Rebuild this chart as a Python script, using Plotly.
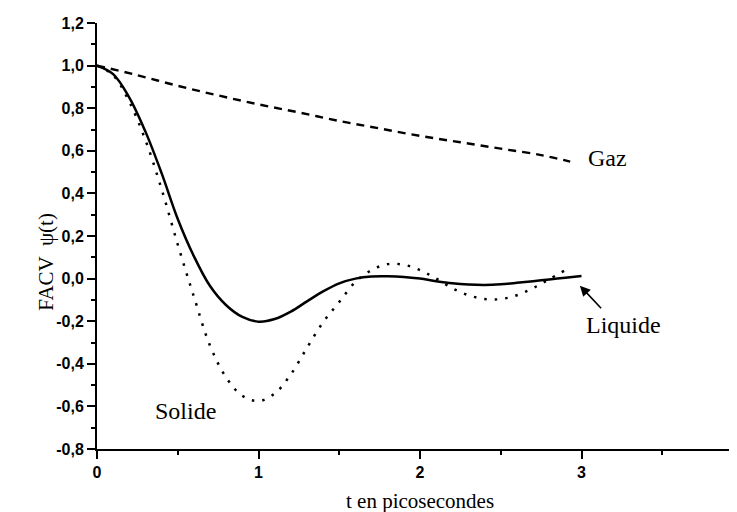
import plotly.graph_objects as go

# ---- data ----
t_liquide = [0, 0.1, 0.2, 0.3, 0.4, 0.5, 0.6, 0.7, 0.8, 0.9,
             1.0, 1.1, 1.2, 1.3, 1.4, 1.5, 1.6, 1.7, 1.8, 1.9, 2.0, 2.1, 2.2, 2.3, 2.4,
             2.5, 2.6, 2.7, 2.8, 2.9, 3.0]
psi_liquide = [1.0, 0.96, 0.85, 0.69, 0.495, 0.28, 0.105, -0.035, -0.125, -0.18,
               -0.202, -0.19, -0.155, -0.107, -0.06, -0.022, 0.0, 0.01, 0.011,
               0.008, 0.0, -0.012, -0.022, -0.028, -0.03, -0.027, -0.02, -0.012, -0.004,
               0.004, 0.012]

t_solide = [0, 0.1, 0.2, 0.3, 0.4, 0.5, 0.6, 0.7, 0.8, 0.9,
            1.0, 1.1, 1.2, 1.3, 1.4, 1.5, 1.6, 1.7, 1.8, 1.9, 2.0, 2.1, 2.2, 2.3, 2.4,
            2.5, 2.6, 2.7, 2.8, 2.9]
psi_solide = [1.0, 0.955, 0.83, 0.65, 0.42, 0.16, -0.085, -0.315, -0.465, -0.55,
              -0.575, -0.54, -0.45, -0.325, -0.205, -0.11, -0.015, 0.04, 0.068, 0.065,
              0.04, 0.0, -0.045, -0.078, -0.096, -0.096, -0.078, -0.045, -0.003, 0.04]

t_gaz = [0, 0.25, 0.5, 0.75, 1.0, 1.25, 1.5, 1.75, 2.0, 2.25, 2.5, 2.75, 2.93]
psi_gaz = [1.0, 0.955, 0.905, 0.86, 0.818, 0.78, 0.74, 0.705, 0.67, 0.64, 0.61, 0.58, 0.549]

x_tickvals = [0, 1, 2, 3, 4]
x_ticktext = ["0", "1", "2", "3", "4"]
y_tickvals = [-0.8, -0.6, -0.4, -0.2, 0.0, 0.2, 0.4, 0.6, 0.8, 1.0, 1.2]
y_ticktext = ["-0,8", "-0,6", "-0,4", "-0,2", "0,0", "0,2", "0,4", "0,6", "0,8", "1,0", "1,2"]

serif = "Liberation Serif, Times New Roman, serif"
sans = "Liberation Sans, Arial, sans-serif"

fig = go.Figure()
fig.add_trace(go.Scatter(x=t_gaz, y=psi_gaz, mode="lines", line_shape="spline",
                         line=dict(color="black", width=2.4, dash="8px,6px"),
                         name="Gaz", showlegend=False))
fig.add_trace(go.Scatter(x=t_solide, y=psi_solide, mode="lines", line_shape="spline",
                         line=dict(color="black", width=2.5, dash="2.5px,8px"),
                         name="Solide", showlegend=False))
fig.add_trace(go.Scatter(x=t_liquide, y=psi_liquide, mode="lines", line_shape="spline",
                         line=dict(color="black", width=2.5),
                         name="Liquide", showlegend=False))

fig.add_annotation(x=3.03, y=0.568, text="Gaz", showarrow=False, xanchor="left",
                   font=dict(family=serif, size=24, color="black"))
fig.add_annotation(x=0.347, y=-0.62, text="Solide", showarrow=False, xanchor="left",
                   font=dict(family=serif, size=24, color="black"))
fig.add_annotation(x=3.015, y=-0.216, text="Liquide", showarrow=False, xanchor="left",
                   font=dict(family=serif, size=24, color="black"))
fig.add_annotation(x=2.99, y=-0.033, ax=3.13, ay=-0.146, axref="x", ayref="y",
                   xref="x", yref="y", text="", showarrow=True, arrowhead=2,
                   arrowsize=1.3, arrowwidth=1.6, arrowcolor="black")
fig.add_annotation(xref="paper", yref="y", x=-0.102, y=0.08, text="FACV  ψ(t)",
                   textangle=-90, showarrow=False,
                   font=dict(family=serif, size=21, color="black"))
fig.add_annotation(xref="x", yref="paper", x=2.0, y=-0.122, yanchor="middle",
                   text="t en picosecondes", showarrow=False,
                   font=dict(family=serif, size=21, color="black"))

fig.update_layout(
    width=737, height=512,
    margin=dict(l=89, r=2, t=15, b=71),
    paper_bgcolor="white", plot_bgcolor="white",
    xaxis=dict(range=[0, 4], tickvals=x_tickvals, ticktext=x_ticktext,
               showgrid=False, zeroline=False, showline=True, linecolor="black",
               linewidth=2, ticks="outside", ticklen=8, tickwidth=2, tickcolor="black",
               minor=dict(dtick=0.5, tick0=0, ticks="outside", ticklen=4, tickwidth=2,
                          tickcolor="black", showgrid=False),
               ticklabeloverflow="allow", automargin=False,
               tickfont=dict(family=sans, size=16, color="black", weight="bold")),
    yaxis=dict(range=[-0.8, 1.2], tickvals=y_tickvals, ticktext=y_ticktext,
               showgrid=False, zeroline=False, showline=True, linecolor="black",
               linewidth=2, ticks="outside", ticklen=8, tickwidth=2, tickcolor="black",
               minor=dict(dtick=0.1, tick0=0, ticks="outside", ticklen=4, tickwidth=2,
                          tickcolor="black", showgrid=False),
               ticklabeloverflow="allow", automargin=False,
               tickfont=dict(family=sans, size=16, color="black", weight="bold")),
)

fig.write_html("out.html")
